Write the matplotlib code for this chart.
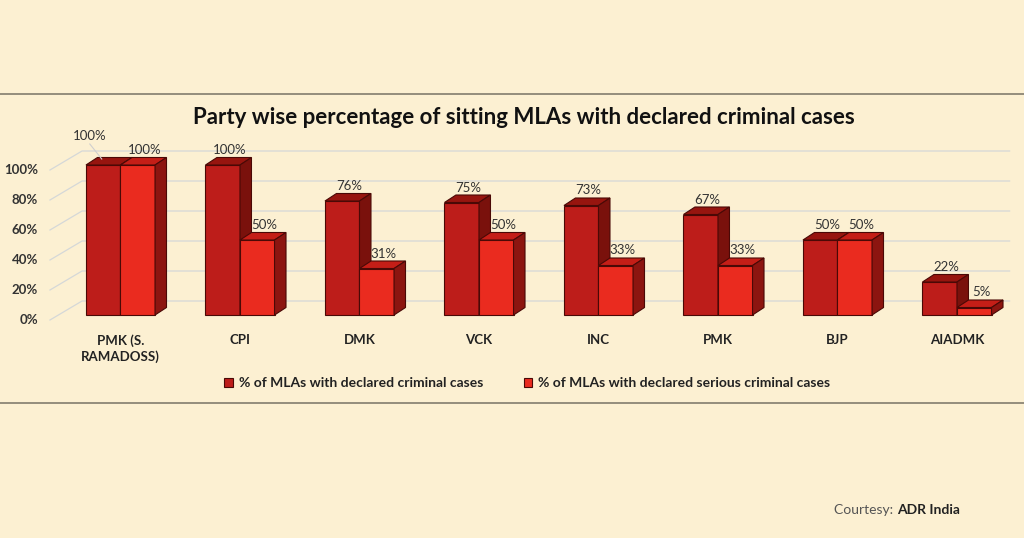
import matplotlib.pyplot as plt
from matplotlib.patches import Polygon

parties = ['PMK (S.\nRAMADOSS)', 'CPI', 'DMK', 'VCK', 'INC', 'PMK', 'BJP', 'AIADMK']
criminal = [100, 100, 76, 75, 73, 67, 50, 22]
serious = [100, 50, 31, 50, 33, 33, 50, 5]
yticks = [0, 20, 40, 60, 80, 100]
series_names = ['% of MLAs with declared criminal cases',
                '% of MLAs with declared serious criminal cases']

bg = '#FCF0D2'
plt.rcParams['font.family'] = ['Lato', 'DejaVu Sans']

fig = plt.figure(figsize=(10.24, 5.38), dpi=100, facecolor=bg)
ax = fig.add_axes([0, 0, 1, 1])
ax.set_facecolor(bg)
# pixel mapping: group i centre at 120.5 + 119.5*i px, 0% at 315 px, 1.5 px per %
ax.set_xlim(-120.5 / 119.5, (1024 - 120.5) / 119.5)
ax.set_ylim((315 - 538) / 1.5, 315 / 1.5)
ax.axis('off')

w = 0.289      # bar width
ddx = 0.096    # bar depth in x
ddy = 5.0      # bar depth in y
wall_back = 14 / 1.5
wall_front = 5 / 1.5
gx0, gx1, gxf = -0.322, 7.44, -0.59

# back wall gridlines with the left wall diagonals
for t in yticks:
    ax.plot([gxf, gx0, gx1], [t - wall_front, t + wall_back, t + wall_back],
            color='#D5D8D8', lw=0.9, zorder=1)
    ax.text(-0.69, t - wall_front, f'{t}%', ha='right', va='center',
            fontsize=9.5, color='#333333', fontweight='bold')

faces = [('#BD1D1A', '#97150F', '#7A110C'), ('#EA2B1F', '#C41E17', '#8C1510')]
edge = '#4A0906'

z = 2
for s, vals in enumerate([criminal, serious]):
    xs = [i - w / 2 + s * w for i in range(len(parties))]
    bars = ax.bar(xs, vals, width=w, color=faces[s][0], edgecolor=edge,
                  linewidth=0.8, label=series_names[s], zorder=z + 3 * s)
    for x, v in zip(xs, vals):
        l, r = x - w / 2, x + w / 2
        top = Polygon([(l, v), (r, v), (r + ddx, v + ddy), (l + ddx, v + ddy)],
                      closed=True, facecolor=faces[s][1], edgecolor=edge,
                      linewidth=0.8, zorder=z + 3 * s + 1)
        side = Polygon([(r, 0), (r + ddx, ddy), (r + ddx, v + ddy), (r, v)],
                       closed=True, facecolor=faces[s][2], edgecolor=edge,
                       linewidth=0.8, zorder=z + 3 * s + 1)
        ax.add_patch(top)
        ax.add_patch(side)

# value labels
for i in range(len(parties)):
    for s, v in enumerate([criminal[i], serious[i]]):
        x = i - w / 2 + s * w + ddx * 0.6
        y = v + ddy + 5
        if i == 0 and s == 0:
            ax.text(x - 0.17, y + 9, f'{v}%', ha='center', va='center',
                    fontsize=9.5, color='#333333')
            ax.plot([x - 0.17, x - 0.07], [y + 4, v + ddy - 1],
                    color='#CFCFCF', lw=0.8, zorder=8)
        else:
            ax.text(x, y, f'{v}%', ha='center', va='center', fontsize=9.5,
                    color='#333333')

# category labels
for i, p in enumerate(parties):
    ax.text(i, -13, p, ha='center', va='top', fontsize=9.5, color='#222222',
            fontweight='bold', linespacing=1.25)

fig.text(0.512, 1 - 117 / 538, 'Party wise percentage of sitting MLAs with declared criminal cases',
         ha='center', va='center', fontsize=16, fontweight='bold', color='#111111')

# framing rules
for yy in [94, 403]:
    fig.add_artist(plt.Line2D([0, 1], [1 - yy / 538] * 2, color='#8C8576', lw=1.3))

leg = fig.legend(loc='center', bbox_to_anchor=(0.515, 1 - 383 / 538), ncol=2,
                 frameon=False, fontsize=10, handlelength=0.6, handleheight=0.6,
                 handletextpad=0.45, columnspacing=2.9)
for t in leg.get_texts():
    t.set_color('#222222')
    t.set_fontweight('bold')

t1 = fig.text(834 / 1024, 1 - 510 / 538, 'Courtesy: ', ha='left', va='center',
              fontsize=10, color='#555555')
ax.annotate('ADR India', xy=(1, 0.5), xycoords=t1, ha='left', va='center',
            fontsize=10, color='#222222', fontweight='bold')

fig.savefig('out.png', dpi=100, facecolor=bg)
